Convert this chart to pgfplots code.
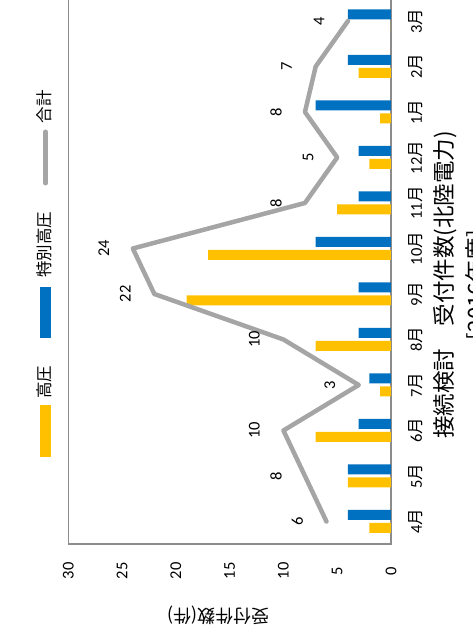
\documentclass[border=0pt]{standalone}
\usepackage{pgfplots}
\pgfplotsset{compat=1.18}
\usepackage{fontspec}
\setmainfont{Carlito}
\newfontfamily\cjk{Noto Sans CJK JP}
\definecolor{cYel}{HTML}{FFC000}
\definecolor{cBlu}{HTML}{0070C0}
\definecolor{cGry}{HTML}{A5A5A5}
\definecolor{cAx}{HTML}{8C8C8C}
\begin{document}
\begin{tikzpicture}[x=1pt,y=1pt]
\begin{axis}[
  at={(68.3pt,91.75pt)}, anchor=south west,
  scale only axis, width=322.7pt, height=546pt,
  xmin=0, xmax=30, x dir=reverse,
  ymin=-0.5, ymax=11.5,
  xtick={0,5,...,30},
  ytick={0,...,11},
  yticklabels={{4{\cjk 月}},{5{\cjk 月}},{6{\cjk 月}},{7{\cjk 月}},{8{\cjk 月}},{9{\cjk 月}},{10{\cjk 月}},{11{\cjk 月}},{12{\cjk 月}},{1{\cjk 月}},{2{\cjk 月}},{3{\cjk 月}}},
  yticklabel pos=right,
  major tick length=0pt,
  axis line style={cAx, line width=1.5pt},
  /pgf/number format/assume math mode=true,
  xticklabel style={font=\fontsize{16.5}{18}\selectfont, yshift=-26.75pt, rotate=90, anchor=center},
  yticklabel style={font=\fontsize{16.5}{18}\selectfont, xshift=25pt, rotate=90, anchor=center},
  clip=false,
]
\addplot[xbar, bar width=10pt, bar shift=-6.5pt, fill=cYel, draw=none]
  coordinates {(2,0) (4,1) (7,2) (1,3) (7,4) (19,5) (17,6) (5,7) (2,8) (1,9) (3,10) (0,11)};
\addplot[xbar, bar width=10pt, bar shift=6.5pt, fill=cBlu, draw=none]
  coordinates {(4,0) (4,1) (3,2) (2,3) (3,4) (3,5) (7,6) (3,7) (3,8) (7,9) (4,10) (4,11)};
\addplot[cGry, line width=4.5pt, line cap=round, line join=round, mark=none,
  point meta=x, nodes near coords,
  nodes near coords style={text=black, font=\fontsize{16.5}{18}\selectfont, xshift=-29pt, rotate=90, anchor=center}]
  coordinates {(6,0) (8,1) (10,2) (3,3) (10,4) (22,5) (24,6) (8,7) (5,8) (8,9) (7,10) (4,11)};
\end{axis}
% legend
\fill[cYel] (40,179) rectangle (51,231);
\fill[cBlu] (40,298) rectangle (51,349);
\draw[cGry, line width=5pt, line cap=round] (45.5,453) -- (45.5,504);
\node[rotate=90, font=\cjk\fontsize{16.5}{18}\selectfont] at (44.5,253.5) {高圧};
\node[rotate=90, font=\cjk\fontsize{16.5}{18}\selectfont] at (44.5,391) {特別高圧};
\node[rotate=90, font=\cjk\fontsize{16.5}{18}\selectfont] at (44.5,529) {合計};
% titles
\node[rotate=90, font=\cjk\fontsize{22.5}{27}\selectfont] at (445,351) {接続検討　受付件数(北陸電力)};
\node[rotate=90, font=\cjk\fontsize{22.5}{27}\selectfont] at (477,351) {[2016年度]};
\node[rotate=180, font=\cjk\fontsize{18}{20}\selectfont] at (218,21) {受付件数(件)};
\pgfresetboundingbox
\path[use as bounding box] (0,0) rectangle (472,636);
\end{tikzpicture}
\end{document}
